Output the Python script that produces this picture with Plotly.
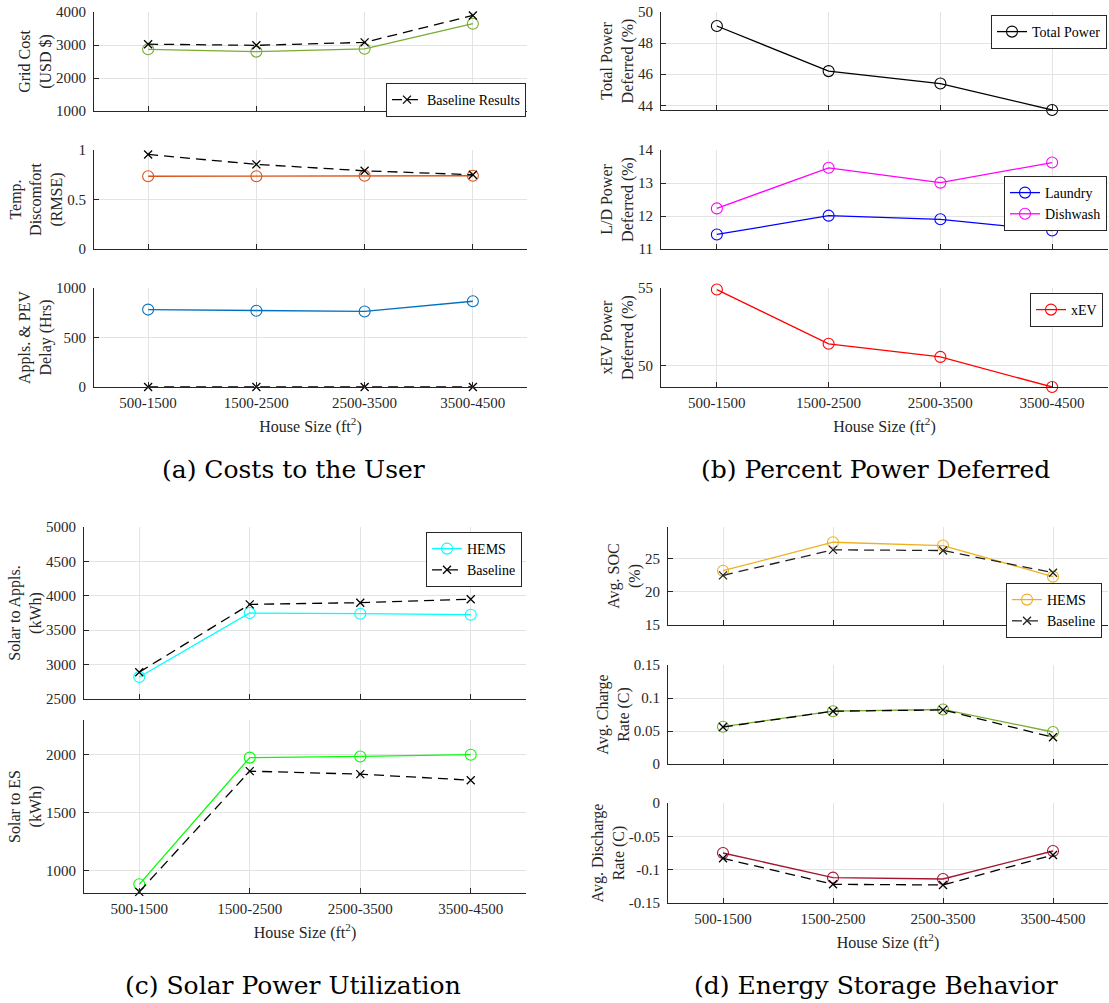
import plotly.graph_objects as go

# ---------------- data ----------------
categories = ["500-1500", "1500-2500", "2500-3500", "3500-4500"]

# (a) Costs to the user
grid_cost_hems = [2870, 2800, 2885, 3645]
grid_cost_base = [3025, 2990, 3080, 3895]
discomfort_hems = [0.735, 0.735, 0.74, 0.74]
discomfort_base = [0.955, 0.855, 0.79, 0.75]
delay_hems = [782, 770, 763, 866]
delay_base = [0, 0, 0, 0]

# (b) Percent power deferred
total_deferred = [49.1, 46.2, 45.4, 43.7]
laundry_deferred = [11.44, 12.01, 11.9, 11.56]
dishwash_deferred = [12.23, 13.46, 13.01, 13.62]
xev_deferred = [54.9, 51.42, 50.58, 48.65]

# (c) Solar power utilization
solar_appl_hems = [2820, 3750, 3740, 3725]
solar_appl_base = [2890, 3875, 3900, 3950]
solar_es_hems = [880, 1975, 1985, 2000]
solar_es_base = [815, 1858, 1832, 1780]

# (d) Energy storage behavior
soc_hems = [23.2, 27.5, 27.0, 22.3]
soc_base = [22.5, 26.35, 26.25, 22.9]
charge_hems = [0.0565, 0.080, 0.0826, 0.0485]
charge_base = [0.056, 0.080, 0.082, 0.0405]
discharge_hems = [-0.075, -0.112, -0.114, -0.072]
discharge_base = [-0.083, -0.122, -0.123, -0.078]

# y tick values per subplot
ticks_grid_cost = [1000, 2000, 3000, 4000]
ticks_discomfort = [0, 0.5, 1]
ticks_delay = [0, 500, 1000]
ticks_total = [44, 46, 48, 50]
ticks_ld = [11, 12, 13, 14]
ticks_xev = [50, 55]
ticks_solar_appl = [2500, 3000, 3500, 4000, 4500, 5000]
ticks_solar_es = [1000, 1500, 2000]
ticks_soc = [15, 20, 25]
ticks_charge = [0, 0.05, 0.1, 0.15]
ticks_discharge = [-0.15, -0.1, -0.05, 0]

# ---------------- styling ----------------
W, H = 1109, 1003
AX = "#262626"
GRID = "#e3e3e3"
SERIF = "Liberation Serif"
CAPTION_FONT = "DejaVu Serif"
TICK_SIZE = 15
TITLE_SIZE = 16
LEG_SIZE = 14
LW = 1.3
DASH = "10px,6px"

fig = go.Figure()


def px_x(p):
    return p / W


def px_y(p):
    return 1 - p / H


def add_axes(i, xpx, ypx, yrange, yticks, ytitle, show_xlabels):
    xname = "xaxis" if i == 1 else f"xaxis{i}"
    yname = "yaxis" if i == 1 else f"yaxis{i}"
    xref = "x" if i == 1 else f"x{i}"
    yref = "y" if i == 1 else f"y{i}"
    xa = dict(
        domain=[px_x(xpx[0]), px_x(xpx[1])],
        anchor=yref,
        type="category",
        range=[-0.5, 3.5],
        automargin=False,
        showgrid=True, gridcolor=GRID, gridwidth=1,
        zeroline=False,
        showline=True, linecolor=AX, linewidth=1,
        ticks="inside", ticklen=5, tickcolor=AX,
        showticklabels=show_xlabels,
        tickfont=dict(family=SERIF, size=TICK_SIZE, color=AX),
        ticklabelstandoff=2,
    )
    if show_xlabels:
        xa["title"] = dict(text="House Size (ft<sup>2</sup>)",
                           font=dict(family=SERIF, size=TITLE_SIZE, color=AX),
                           standoff=10)
    ya = dict(
        domain=[px_y(ypx[1]), px_y(ypx[0])],
        anchor=xref,
        range=yrange,
        automargin=False,
        tickvals=yticks,
        ticktext=["%g" % v for v in yticks],
        showgrid=True, gridcolor=GRID, gridwidth=1,
        zeroline=False,
        showline=True, linecolor=AX, linewidth=1,
        ticks="inside", ticklen=5, tickcolor=AX,
        tickfont=dict(family=SERIF, size=TICK_SIZE, color=AX),
        ticklabelstandoff=4,
        title=dict(text=ytitle, font=dict(family=SERIF, size=TITLE_SIZE, color=AX),
                   standoff=0),
    )
    fig.layout[xname] = xa
    fig.layout[yname] = ya
    return xref, yref


def hems(ax, y, color, name="HEMS", legend=None):
    fig.add_trace(go.Scatter(
        x=categories, y=y, xaxis=ax[0], yaxis=ax[1], name=name,
        mode="lines+markers",
        line=dict(color=color, width=LW),
        marker=dict(symbol="circle-open", size=11, color=color, line=dict(width=1.1)),
        showlegend=legend is not None, legend=legend or "legend",
        cliponaxis=False,
    ))


def base(ax, y, name="Baseline", legend=None, color="black"):
    fig.add_trace(go.Scatter(
        x=categories, y=y, xaxis=ax[0], yaxis=ax[1], name=name,
        mode="lines+markers",
        line=dict(color=color, width=LW, dash=DASH),
        marker=dict(symbol="x-thin-open", size=8, color=color, line=dict(width=1.3, color=color)),
        showlegend=legend is not None, legend=legend or "legend",
        cliponaxis=False,
    ))


# ---------------- panel (a) ----------------
xa_px = (94, 527)
a1 = add_axes(1, xa_px, (12, 111), [1000, 4000], ticks_grid_cost, "Grid Cost<br>(USD $)", False)
a2 = add_axes(2, xa_px, (150, 249), [0, 1], ticks_discomfort, "Temp.<br>Discomfort<br>(RMSE)", False)
a3 = add_axes(3, xa_px, (288, 387), [0, 1000], ticks_delay, "Appls. & PEV<br>Delay (Hrs)", True)
hems(a1, grid_cost_hems, "#77AC30")
base(a1, grid_cost_base, name="Baseline Results", legend="legend")
hems(a2, discomfort_hems, "#D95319")
base(a2, discomfort_base)
hems(a3, delay_hems, "#0072BD")
base(a3, delay_base)

# ---------------- panel (b) ----------------
xb_px = (661, 1108)
b1 = add_axes(4, xb_px, (12, 110), [43.7, 50], ticks_total, "Total Power<br>Deferred (%)", False)
b2 = add_axes(5, xb_px, (150, 249), [11, 14], ticks_ld, "L/D Power<br>Deferred (%)", False)
b3 = add_axes(6, xb_px, (288, 387), [48.65, 55], ticks_xev, "xEV Power<br>Deferred (%)", True)
hems(b1, total_deferred, "black", name="Total Power", legend="legend2")
hems(b2, laundry_deferred, "#0000FF", name="Laundry", legend="legend3")
hems(b2, dishwash_deferred, "#FF00FF", name="Dishwash", legend="legend3")
hems(b3, xev_deferred, "#FF0000", name="xEV", legend="legend4")

# ---------------- panel (c) ----------------
xc_px = (84, 526)
c1 = add_axes(7, xc_px, (527, 699), [2500, 5000], ticks_solar_appl, "Solar to Appls.<br>(kWh)", False)
c2 = add_axes(8, xc_px, (720, 893), [805, 2300], ticks_solar_es, "Solar to ES<br>(kWh)", True)
hems(c1, solar_appl_hems, "#00FFFF", legend="legend5")
base(c1, solar_appl_base, legend="legend5")
hems(c2, solar_es_hems, "#00FF00")
base(c2, solar_es_base)

# ---------------- panel (d) ----------------
xd_px = (668, 1108)
d1 = add_axes(9, xd_px, (527, 625), [15, 29.8], ticks_soc, "Avg. SOC<br>(%)", False)
d2 = add_axes(10, xd_px, (665, 764), [0, 0.15], ticks_charge, "Avg. Charge<br>Rate (C)", False)
d3 = add_axes(11, xd_px, (803, 903), [-0.15, 0], ticks_discharge, "Avg. Discharge<br>Rate (C)", True)
hems(d1, soc_hems, "#EDB120", legend="legend6")
base(d1, soc_base, legend="legend6", color="#222222")
hems(d2, charge_hems, "#77AC30")
base(d2, charge_base)
hems(d3, discharge_hems, "#A2142F")
base(d3, discharge_base)

# ---------------- legends ----------------
def legend_box(right_px, top_px):
    return dict(
        x=px_x(right_px), y=px_y(top_px), xanchor="right", yanchor="top",
        xref="paper", yref="paper",
        bgcolor="white", bordercolor=AX, borderwidth=1,
        font=dict(family=SERIF, size=LEG_SIZE, color="black"),
        itemwidth=30, tracegroupgap=0, traceorder="normal",
    )


fig.update_layout(
    legend=legend_box(526, 83),
    legend2=legend_box(1107, 15),
    legend3=legend_box(1107, 176),
    legend4=legend_box(1103, 293),
    legend5=legend_box(522, 532),
    legend6=legend_box(1102, 583),
)

# ---------------- panel captions ----------------
captions = [
    ("(a) Costs to the User", 293, 469),
    ("(b) Percent Power Deferred", 875, 469),
    ("(c) Solar Power Utilization", 293, 985),
    ("(d) Energy Storage Behavior", 876, 985),
]
for text, cx, cy in captions:
    fig.add_annotation(
        text=text, x=px_x(cx), y=px_y(cy), xref="paper", yref="paper",
        xanchor="center", yanchor="middle", showarrow=False,
        font=dict(family=CAPTION_FONT, size=25, color="black"),
    )

fig.update_layout(
    width=W, height=H, autosize=False,
    margin=dict(l=0, r=0, t=0, b=0),
    paper_bgcolor="white", plot_bgcolor="white",
)

fig.write_html("out.html")
